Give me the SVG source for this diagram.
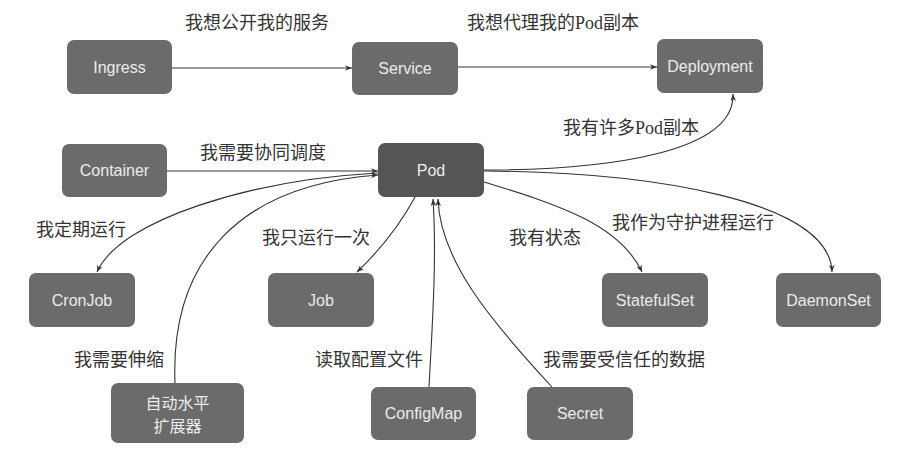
<svg xmlns="http://www.w3.org/2000/svg" width="911" height="462" viewBox="0 0 911 462">
<style>
.node rect{fill:#6b6b6b;}
.node.dark rect{fill:#555555;}
.node text{font-family:"Liberation Sans","Noto Sans CJK SC",sans-serif;font-size:16px;fill:#ececec;text-anchor:middle;}
.lbl{font-family:"Liberation Serif","Noto Sans CJK SC",serif;font-size:18px;fill:#333333;}
.edge{fill:none;stroke:#333333;stroke-width:1.1;marker-end:url(#arr);}
</style>
<defs>
<marker id="arr" viewBox="0 0 10 10" refX="10" refY="5" markerWidth="7" markerHeight="7" markerUnits="userSpaceOnUse" orient="auto">
<path d="M0,1 L10,5 L0,9 L3,5 Z" fill="#333333"/>
</marker>
</defs>
<rect width="911" height="462" fill="#ffffff"/>
<g id="connectors">
<path class="edge" d="M172,68 L352,68"/>
<path class="edge" d="M458,67 L657,67"/>
<path class="edge" d="M167,171 L378,171"/>
<path class="edge" d="M484,170 C610,170 735,152 733,94"/>
<path class="edge" d="M484,171 C650,172 830,200 832,272"/>
<path class="edge" d="M484,182 C560,205 620,225 642,272"/>
<path class="edge" d="M378,173 C250,180 120,220 97,272"/>
<path class="edge" d="M175,383 C170,260 240,185 378,175"/>
<path class="edge" d="M415,197 C400,225 380,250 357,272"/>
<path class="edge" d="M429,387 C432,330 437,260 433,199"/>
<path class="edge" d="M552,387 C490,320 440,260 438,199"/>
</g>
<g id="labels">
<text class="lbl" x="185" y="29">我想公开我的服务</text>
<text class="lbl" x="467" y="29">我想代理我的Pod副本</text>
<text class="lbl" x="200" y="159">我需要协同调度</text>
<text class="lbl" x="563" y="134">我有许多Pod副本</text>
<text class="lbl" x="36" y="236">我定期运行</text>
<text class="lbl" x="262" y="244">我只运行一次</text>
<text class="lbl" x="74" y="366">我需要伸缩</text>
<text class="lbl" x="315" y="366">读取配置文件</text>
<text class="lbl" x="509" y="244">我有状态</text>
<text class="lbl" x="612" y="229">我作为守护进程运行</text>
<text class="lbl" x="543" y="366">我需要受信任的数据</text>
</g>
<g id="ingress" class="node"><rect x="67" y="40" width="105" height="54" rx="7"/><text x="119.5" y="73">Ingress</text></g>
<g id="service" class="node"><rect x="352" y="42" width="106" height="53" rx="7"/><text x="405" y="74">Service</text></g>
<g id="deployment" class="node"><rect x="657" y="39" width="106" height="54" rx="7"/><text x="710" y="72">Deployment</text></g>
<g id="container" class="node"><rect x="62" y="144" width="105" height="53" rx="7"/><text x="114.5" y="176">Container</text></g>
<g id="pod" class="node dark"><rect x="378" y="143" width="106" height="54" rx="7"/><text x="431" y="176">Pod</text></g>
<g id="cronjob" class="node"><rect x="29" y="273" width="106" height="54" rx="7"/><text x="82" y="306">CronJob</text></g>
<g id="job" class="node"><rect x="268" y="273" width="106" height="54" rx="7"/><text x="321" y="306">Job</text></g>
<g id="statefulset" class="node"><rect x="602" y="273" width="106" height="54" rx="7"/><text x="655" y="306">StatefulSet</text></g>
<g id="daemonset" class="node"><rect x="776" y="273" width="105" height="54" rx="7"/><text x="828.5" y="306">DaemonSet</text></g>
<g id="hpa" class="node"><rect x="111" y="383" width="133" height="60" rx="7"/><text x="177.5" y="409">自动水平</text><text x="177.5" y="432">扩展器</text></g>
<g id="configmap" class="node"><rect x="371" y="387" width="105" height="53" rx="7"/><text x="423.5" y="419">ConfigMap</text></g>
<g id="secret" class="node"><rect x="527" y="387" width="106" height="53" rx="7"/><text x="580" y="419">Secret</text></g>
</svg>
